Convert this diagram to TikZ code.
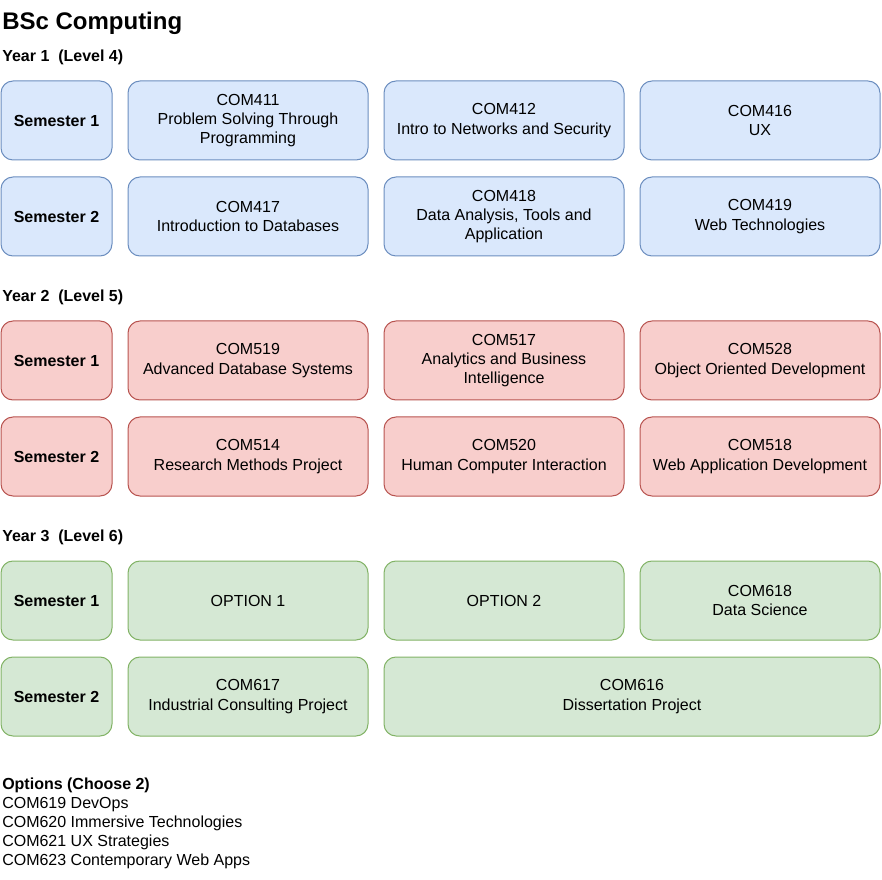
\documentclass[tikz,border=0pt]{standalone}
\usepackage{fontspec}
\setmainfont{Liberation Sans}
\definecolor{bfill}{HTML}{DAE8FC}\definecolor{bline}{HTML}{6C8EBF}
\definecolor{rfill}{HTML}{F8CECC}\definecolor{rline}{HTML}{B85450}
\definecolor{gfill}{HTML}{D5E8D4}\definecolor{gline}{HTML}{82B366}
\begin{document}
\begin{tikzpicture}[x=0.75pt,y=-0.75pt,
  box/.style={rounded corners=9pt, line width=0.75pt, inner sep=0pt, minimum height=59.25pt, align=center, font=\fontsize{12}{14.4}\selectfont},
  sem/.style={box, minimum width=83.25pt, font=\fontsize{12}{14.4}\selectfont\bfseries},
  mod/.style={box, minimum width=180pt},
  wide/.style={box, minimum width=372pt},
  blu/.style={fill=bfill, draw=bline},
  red/.style={fill=rfill, draw=rline},
  grn/.style={fill=gfill, draw=gline},
  lbl/.style={anchor=west, inner sep=0pt, font=\fontsize{12}{14.4}\selectfont\bfseries},
  txt/.style={anchor=west, inner sep=0pt, font=\fontsize{12}{14.4}\selectfont}]
\useasboundingbox (0,0) rectangle (882,880);
\node[anchor=west, inner sep=0pt, font=\fontsize{18}{21.6}\selectfont\bfseries] (title) at (2,23) {BSc Computing};
% Year 1
\node[lbl] (y1) at (2,57.5) {Year 1\ \ (Level 4)};
\node[sem,blu] (y1s1) at (56.5,120.5) {Semester 1};
\node[mod,blu] (c411) at (248,120.5) {COM411\\Problem Solving Through\\Programming};
\node[mod,blu] (c412) at (504,120.5) {COM412\\Intro to Networks and Security};
\node[mod,blu] (c416) at (760,120.5) {COM416\\UX};
\node[sem,blu] (y1s2) at (56.5,216.5) {Semester 2};
\node[mod,blu] (c417) at (248,216.5) {COM417\\Introduction to Databases};
\node[mod,blu] (c418) at (504,216.5) {COM418\\Data Analysis, Tools and\\Application};
\node[mod,blu] (c419) at (760,216.5) {COM419\\Web Technologies};
% Year 2
\node[lbl] (y2) at (2,297.5) {Year 2\ \ (Level 5)};
\node[sem,red] (y2s1) at (56.5,360.5) {Semester 1};
\node[mod,red] (c519) at (248,360.5) {COM519\\Advanced Database Systems};
\node[mod,red] (c517) at (504,360.5) {COM517\\Analytics and Business\\Intelligence};
\node[mod,red] (c528) at (760,360.5) {COM528\\Object Oriented Development};
\node[sem,red] (y2s2) at (56.5,456.5) {Semester 2};
\node[mod,red] (c514) at (248,456.5) {COM514\\Research Methods Project};
\node[mod,red] (c520) at (504,456.5) {COM520\\Human Computer Interaction};
\node[mod,red] (c518) at (760,456.5) {COM518\\Web Application Development};
% Year 3
\node[lbl] (y3) at (2,537.5) {Year 3\ \ (Level 6)};
\node[sem,grn] (y3s1) at (56.5,600.5) {Semester 1};
\node[mod,grn] (opt1) at (248,600.5) {OPTION 1};
\node[mod,grn] (opt2) at (504,600.5) {OPTION 2};
\node[mod,grn] (c618) at (760,600.5) {COM618\\Data Science};
\node[sem,grn] (y3s2) at (56.5,696.5) {Semester 2};
\node[mod,grn] (c617) at (248,696.5) {COM617\\Industrial Consulting Project};
\node[wide,grn] (c616) at (632,696.5) {COM616\\Dissertation Project};
% Options
\node[txt, font=\fontsize{12}{14.4}\selectfont\bfseries] (oh) at (2,785.5) {Options (Choose 2)};
\node[txt] (o1) at (2,804.5) {COM619 DevOps};
\node[txt] (o2) at (2,823.5) {COM620 Immersive Technologies};
\node[txt] (o3) at (2,842.5) {COM621 UX Strategies};
\node[txt] (o4) at (2,861.5) {COM623 Contemporary Web Apps};
\end{tikzpicture}
\end{document}
